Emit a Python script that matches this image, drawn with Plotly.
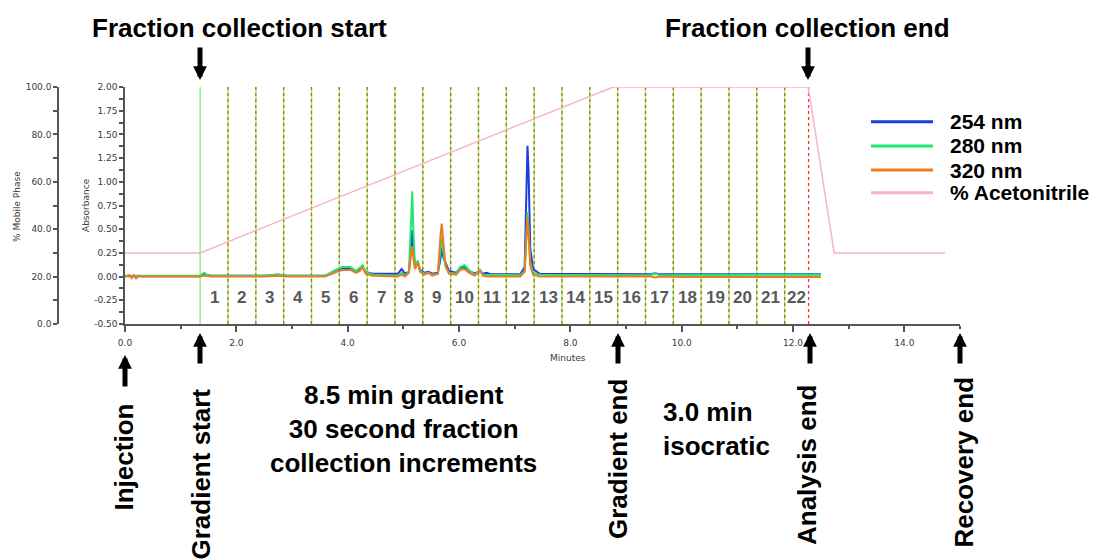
import plotly.graph_objects as go

# ---------------- data ----------------
time_min = [0.0, 0.08, 0.12, 0.16, 0.2, 0.25, 0.3, 1.35, 1.42, 1.47, 1.55, 2.5, 2.75, 2.9,
            3.6, 3.75, 3.9, 4.05, 4.15, 4.22, 4.27, 4.32, 4.45, 4.9, 4.97, 5.03, 5.1,
            5.14, 5.16, 5.18, 5.21, 5.26, 5.3, 5.38, 5.45, 5.52, 5.62, 5.67, 5.69, 5.72,
            5.76, 5.82, 5.95, 6.02, 6.1, 6.18, 6.28, 6.35, 6.38, 6.43, 6.5, 6.56, 7.1,
            7.18, 7.21, 7.23, 7.25, 7.28, 7.33, 7.45, 9.45, 9.52, 9.6, 10.0, 12.5]

abs_254 = [0.005, 0.005, 0.005, 0.005, 0.0, 0.005, 0.005, 0.005, 0.02, 0.015, 0.01, 0.01, 0.02, 0.01,
           0.01, 0.04, 0.08, 0.08, 0.05, 0.07, 0.1, 0.05, 0.03, 0.03, 0.08, 0.03, 0.05,
           0.3, 0.49, 0.3, 0.1, 0.15, 0.07, 0.04, 0.05, 0.03, 0.04, 0.2, 0.32, 0.2,
           0.14, 0.06, 0.04, 0.09, 0.1, 0.06, 0.03, 0.05, 0.06, 0.03, 0.04, 0.025, 0.025,
           0.1, 0.9, 1.38, 1.1, 0.3, 0.08, 0.03, 0.025, 0.035, 0.025, 0.025, 0.025]

abs_280 = [0.01, 0.01, 0.01, 0.01, 0.01, 0.01, 0.01, 0.01, 0.04, 0.02, 0.01, 0.01, 0.025, 0.01,
           0.01, 0.06, 0.1, 0.1, 0.06, 0.09, 0.12, 0.05, 0.02, 0.01, 0.04, 0.01, 0.05,
           0.6, 0.9, 0.5, 0.1, 0.17, 0.06, 0.03, 0.04, 0.02, 0.03, 0.3, 0.42, 0.25,
           0.1, 0.04, 0.03, 0.1, 0.12, 0.07, 0.02, 0.05, 0.07, 0.02, 0.02, 0.015, 0.015,
           0.06, 0.5, 0.68, 0.5, 0.15, 0.04, 0.02, 0.015, 0.04, 0.015, 0.015, 0.02]

abs_320 = [0.0, 0.015, -0.015, 0.015, -0.02, 0.01, 0.0, 0.0, 0.01, 0.005, 0.0, 0.0, 0.01, 0.0,
           0.0, 0.04, 0.07, 0.07, 0.04, 0.06, 0.1, 0.03, 0.01, 0.0, 0.02, 0.0, 0.04,
           0.25, 0.32, 0.2, 0.08, 0.15, 0.05, 0.02, 0.04, 0.01, 0.03, 0.45, 0.56, 0.35,
           0.12, 0.03, 0.02, 0.07, 0.08, 0.04, 0.01, 0.05, 0.06, 0.01, 0.0, 0.0, 0.0,
           0.05, 0.45, 0.63, 0.45, 0.12, 0.02, 0.0, 0.0, -0.01, 0.0, -0.005, -0.005]

acn_time = [0.0, 1.35, 8.77, 12.27, 12.3, 12.74, 14.73]
acn_pct = [30, 30, 100, 100, 96, 30, 30]

series_names = ["254 nm", "280 nm", "320 nm", "% Acetonitrile"]
series_colors = ["#1a3ee0", "#1ee86e", "#f07a22", "#f7b3c8"]

fraction_bounds = [1.35, 1.85, 2.35, 2.85, 3.35, 3.85, 4.35, 4.85, 5.35, 5.85, 6.35, 6.85,
                   7.35, 7.85, 8.35, 8.85, 9.35, 9.85, 10.35, 10.85, 11.35, 11.85, 12.28]
fraction_labels = ["1", "2", "3", "4", "5", "6", "7", "8", "9", "10", "11", "12", "13",
                   "14", "15", "16", "17", "18", "19", "20", "21", "22"]

x_tick_vals = [0, 2, 4, 6, 8, 10, 12, 14]
x_tick_text = ["0.0", "2.0", "4.0", "6.0", "8.0", "10.0", "12.0", "14.0"]
x_minor_vals = [1, 3, 5, 7, 9, 11, 13, 15]

abs_tick_vals = [-0.5, -0.25, 0.0, 0.25, 0.5, 0.75, 1.0, 1.25, 1.5, 1.75, 2.0]
abs_tick_text = ["-0.50", "-0.25", "0.00", "0.25", "0.50", "0.75", "1.00", "1.25", "1.50", "1.75", "2.00"]
abs_minor_vals = [-0.375, -0.125, 0.125, 0.375, 0.625, 0.875, 1.125, 1.375, 1.625, 1.875]

mp_tick_vals = [0, 20, 40, 60, 80, 100]
mp_tick_text = ["0.0", "20.0", "40.0", "60.0", "80.0", "100.0"]
mp_minor_vals = [10, 30, 50, 70, 90]

# ---------------- layout helpers ----------------
W, H = 1101, 560


def px(x):
    return x / W


def py(y):
    return 1 - y / H


AX = "#555555"
TICKFONT = dict(family="DejaVu Sans", size=9, color="#3a3a3a")
BIG = dict(family="Liberation Sans, Arial", size=26, color="#000000", weight="bold")

fig = go.Figure()

for name, vals, col in zip(series_names[:3], [abs_254, abs_280, abs_320], series_colors[:3]):
    fig.add_trace(go.Scatter(x=time_min, y=vals, mode="lines", name=name,
                             line=dict(color=col, width=2), showlegend=False,
                             hoverinfo="skip"))

fig.add_trace(go.Scatter(x=acn_time, y=acn_pct, mode="lines", name=series_names[3],
                         yaxis="y2", line=dict(color=series_colors[3], width=1.5),
                         showlegend=False, hoverinfo="skip"))

shapes = []
# fraction collection boundaries
for i, t in enumerate(fraction_bounds):
    if i == 0:
        shapes.append(dict(type="line", xref="x", yref="y domain", x0=t, x1=t, y0=0, y1=1,
                           line=dict(color="#8ff08f", width=1.5), layer="below"))
    elif i == len(fraction_bounds) - 1:
        shapes.append(dict(type="line", xref="x", yref="y domain", x0=t, x1=t, y0=0, y1=1,
                           line=dict(color="#ff2a2a", width=1.3, dash="dot"), layer="below"))
    else:
        shapes.append(dict(type="line", xref="x", yref="y domain", x0=t, x1=t, y0=0, y1=1,
                           line=dict(color="#cfdc78", width=1.5), layer="below"))
        shapes.append(dict(type="line", xref="x", yref="y domain", x0=t, x1=t, y0=0, y1=1,
                           line=dict(color="#7a8a22", width=1.3, dash="dot"), layer="below"))

# manual legend samples
leg_y = [121.7, 146, 170, 192.7]
for col, yy in zip(series_colors, leg_y):
    shapes.append(dict(type="line", xref="paper", yref="paper", x0=px(871), x1=px(933),
                       y0=py(yy), y1=py(yy), line=dict(color=col, width=3)))

annotations = []
# fraction numbers centred in each fraction window
for k, lab in enumerate(fraction_labels):
    c = (fraction_bounds[k] + fraction_bounds[k + 1]) / 2
    annotations.append(dict(x=c, y=-0.225, xref="x", yref="y", text=lab, showarrow=False,
                            xanchor="center", yanchor="middle",
                            font=dict(family="Liberation Sans, Arial", size=17,
                                      color="#595959", weight="bold")))

# legend texts
for name, yy in zip(series_names, leg_y):
    annotations.append(dict(x=px(948), y=py(yy), xref="paper", yref="paper", text=name,
                            showarrow=False, xanchor="left", yanchor="middle",
                            font=dict(family="Liberation Sans, Arial", size=21,
                                      color="#000000", weight="bold")))

SMALL = dict(family="DejaVu Sans", size=9, color="#3a3a3a")
# axis titles
annotations += [
    dict(x=px(17), y=py(207), xref="paper", yref="paper", text="% Mobile Phase",
         textangle=-90, showarrow=False, xanchor="center", yanchor="middle", font=SMALL),
    dict(x=px(86), y=py(205), xref="paper", yref="paper", text="Absorbance",
         textangle=-90, showarrow=False, xanchor="center", yanchor="middle", font=SMALL),
    dict(x=px(568), y=py(358), xref="paper", yref="paper", text="Minutes",
         showarrow=False, xanchor="center", yanchor="middle", font=SMALL),
]

# big explanatory texts
annotations += [
    dict(x=px(239), y=py(28), xref="paper", yref="paper", text="Fraction collection start",
         showarrow=False, xanchor="center", yanchor="middle", font=BIG),
    dict(x=px(807), y=py(28), xref="paper", yref="paper", text="Fraction collection end",
         showarrow=False, xanchor="center", yanchor="middle", font=BIG),
    dict(x=px(403), y=py(429), xref="paper", yref="paper",
         text="8.5 min gradient<br>30 second fraction<br>collection increments",
         showarrow=False, align="center", xanchor="center", yanchor="middle", font=BIG),
    dict(x=px(661), y=py(429), xref="paper", yref="paper", text="3.0 min<br>isocratic",
         showarrow=False, align="left", xanchor="left", yanchor="middle", font=BIG),
]

rot = [("Injection", 123, 402), ("Gradient start", 200, 387), ("Gradient end", 618, 377),
       ("Analysis end", 807, 383), ("Recovery end", 963, 375)]
for txt, xx, top in rot:
    annotations.append(dict(x=px(xx), y=py(top), xref="paper", yref="paper", text=txt,
                            textangle=-90, showarrow=False, xanchor="center", yanchor="top",
                            font=dict(family="Liberation Sans, Arial", size=26,
                                      color="#000000", weight="bold")))

# arrows (tip x, tip y, tail offset)
arrows = [(200, 80, -34), (808, 80, -34),
          (125, 355, 33), (200, 333, 32), (618, 333, 32), (810, 333, 32), (960, 333, 32)]
for xx, yy, off in arrows:
    annotations.append(dict(x=px(xx), y=py(yy), xref="paper", yref="paper", text="",
                            showarrow=True, ax=0, ay=off, arrowhead=2, arrowsize=0.55,
                            arrowwidth=5, arrowcolor="#000000", standoff=0))

fig.update_layout(
    template="none",
    width=W, height=H, autosize=False,
    margin=dict(l=0, r=0, t=0, b=0, pad=0),
    paper_bgcolor="white", plot_bgcolor="white",
    showlegend=False,
    xaxis=dict(range=[0, 15], domain=[px(125), px(960)], showline=True, linecolor=AX,
               linewidth=1.5, ticks="outside", tickcolor=AX, tickwidth=1.5, ticklen=6,
               tickmode="array", tickvals=x_tick_vals, ticktext=x_tick_text,
               minor=dict(tickmode="array", tickvals=x_minor_vals, ticks="outside",
                          ticklen=3, tickcolor=AX, tickwidth=1.5, showgrid=False),
               showgrid=False, zeroline=False, tickfont=TICKFONT, ticklabelstandoff=3,
               automargin=False),
    yaxis=dict(range=[-0.5, 2.0], domain=[py(324), py(87)], showline=True, linecolor=AX,
               linewidth=1.5, ticks="outside", tickcolor=AX, tickwidth=1.5, ticklen=4,
               tickmode="array", tickvals=abs_tick_vals, ticktext=abs_tick_text,
               minor=dict(tickmode="array", tickvals=abs_minor_vals, ticks="outside",
                          ticklen=4, tickcolor=AX, tickwidth=1.5, showgrid=False),
               showgrid=False, zeroline=False, tickfont=TICKFONT, automargin=False),
    yaxis2=dict(range=[0, 100], overlaying="y", anchor="free", position=px(58), side="left",
                showline=True, linecolor=AX, linewidth=1.5, ticks="outside", tickcolor=AX,
                tickwidth=1.5, ticklen=4, tickmode="array", tickvals=mp_tick_vals,
                ticktext=mp_tick_text,
                minor=dict(tickmode="array", tickvals=mp_minor_vals, ticks="outside",
                           ticklen=4, tickcolor=AX, tickwidth=1.5, showgrid=False),
                showgrid=False, zeroline=False, tickfont=TICKFONT, automargin=False),
    shapes=shapes,
    annotations=annotations,
)

fig.write_html("out.html", config={"displayModeBar": False},
               post_script="document.body.style.margin='0';document.body.style.overflow='hidden';")
